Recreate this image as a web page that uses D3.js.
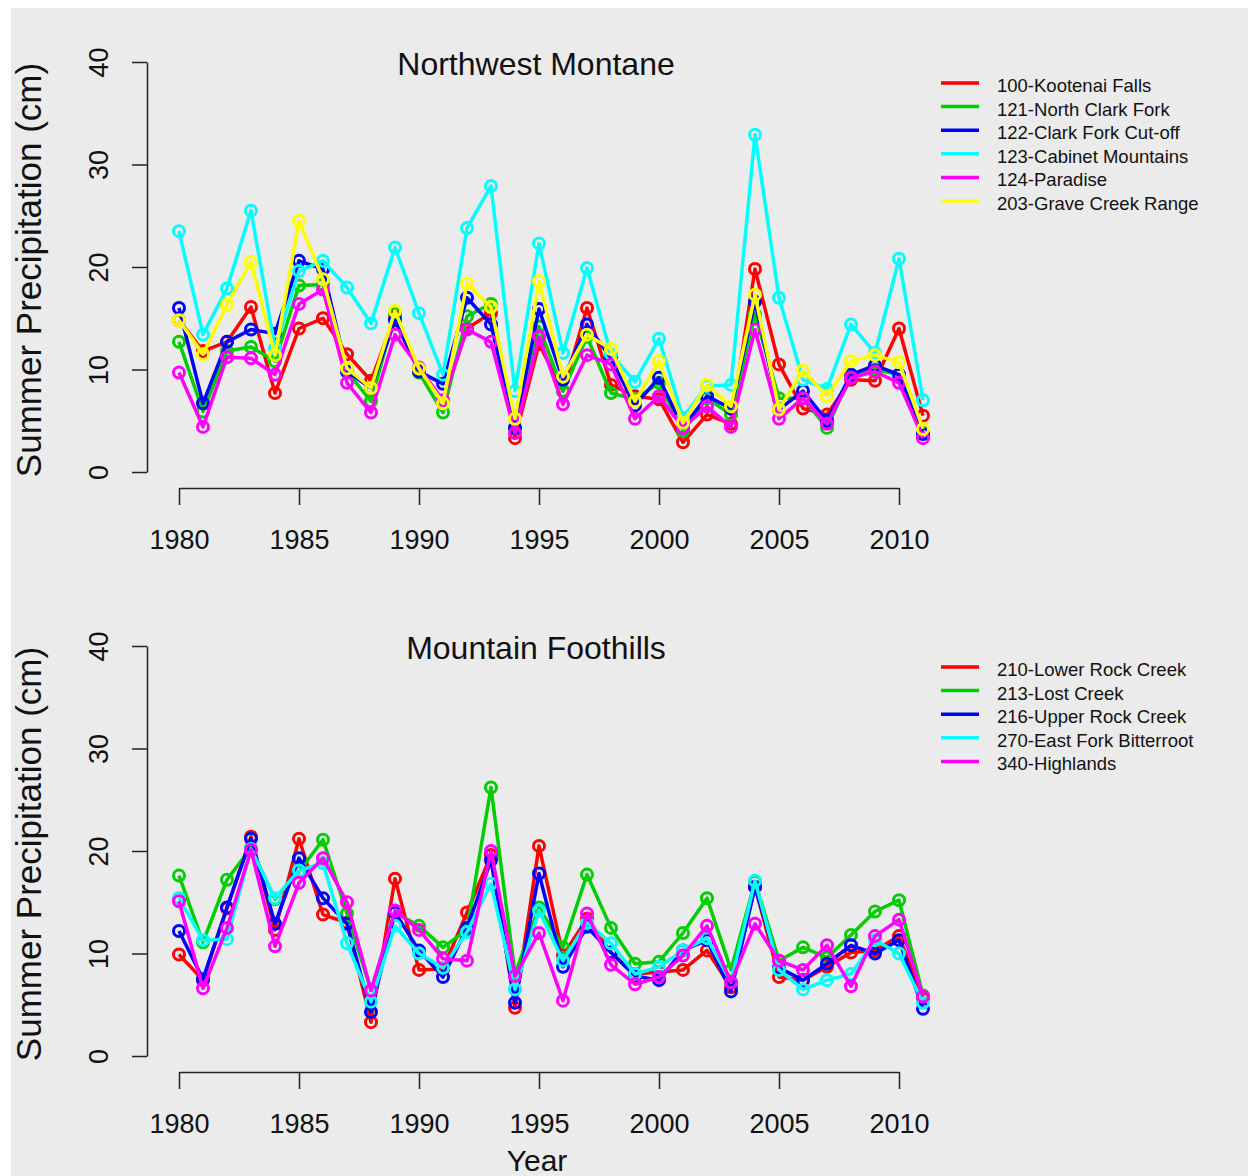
<!DOCTYPE html>
<html>
<head>
<meta charset="utf-8">
<script src="https://cdn.jsdelivr.net/npm/d3@7"></script>
<style>
  body { margin: 0; background: #fff; }
  svg text { font-family: "Liberation Sans", Arial, sans-serif; fill: #111; }
</style>
</head>
<body>
<svg id="chart" width="1248" height="1176"></svg>
<script>
const years = [1980, 1981, 1982, 1983, 1984, 1985, 1986, 1987, 1988, 1989, 1990, 1991, 1992, 1993, 1994, 1995,
  1996, 1997, 1998, 1999, 2000, 2001, 2002, 2003, 2004, 2005, 2006, 2007, 2008, 2009, 2010, 2011];
const xTicks = [1980, 1985, 1990, 1995, 2000, 2005, 2010];
const yTicks = [0, 10, 20, 30, 40];

// Northwest Montane
const nwNames = ['100-Kootenai Falls', '121-North Clark Fork', '122-Clark Fork Cut-off',
  '123-Cabinet Mountains', '124-Paradise', '203-Grave Creek Range'];
const nwColors = ['#ff0000', '#00cd00', '#0000ff', '#00ffff', '#ff00ff', '#ffff00'];
const kootenai = [14.8, 11.8, 12.7, 16.1, 7.7, 14.0, 15.0, 11.5, 8.9, 15.2, 10.1, 6.9, 14.0, 15.5, 3.3, 12.5,
  7.9, 16.0, 8.5, 7.4, 7.1, 2.9, 5.6, 4.7, 19.8, 10.5, 6.2, 5.6, 9.0, 8.9, 14.0, 5.5];
const northClark = [12.7, 5.9, 11.8, 12.2, 10.8, 18.2, 18.3, 9.8, 6.9, 15.4, 9.7, 5.8, 15.2, 16.4, 4.3, 14.2,
  7.9, 13.2, 7.7, 7.1, 8.7, 4.0, 7.2, 5.6, 15.4, 7.2, 7.2, 4.3, 9.5, 10.0, 9.5, 3.8];
const clarkCutoff = [16.0, 6.7, 12.7, 13.9, 13.5, 20.6, 19.8, 9.8, 8.2, 14.8, 9.8, 8.6, 17.0, 14.4, 4.3, 15.9,
  9.0, 14.4, 11.1, 6.5, 9.2, 4.3, 7.4, 6.2, 16.6, 6.1, 7.9, 5.0, 9.5, 10.4, 9.5, 3.7];
const cabinet = [23.5, 13.4, 17.9, 25.5, 12.1, 19.6, 20.6, 18.0, 14.5, 21.9, 15.5, 9.5, 23.8, 27.9, 7.9, 22.3,
  11.6, 19.9, 11.5, 8.8, 13.0, 5.3, 8.4, 8.5, 32.9, 17.0, 9.0, 8.1, 14.4, 11.6, 20.8, 7.0];
const paradise = [9.7, 4.4, 11.2, 11.1, 9.5, 16.4, 17.8, 8.7, 5.8, 13.4, 10.2, 7.0, 13.9, 12.7, 3.8, 13.2,
  6.6, 11.4, 10.5, 5.2, 7.4, 4.3, 6.4, 4.4, 13.9, 5.2, 7.2, 4.7, 9.2, 9.8, 8.7, 3.3];
const graveCreek = [14.8, 11.5, 16.3, 20.5, 11.4, 24.5, 18.8, 10.1, 8.2, 15.7, 10.1, 6.7, 18.4, 16.1, 5.2, 18.6,
  9.3, 13.4, 12.0, 6.9, 10.8, 4.8, 8.5, 6.4, 17.3, 6.1, 9.9, 7.4, 10.8, 11.4, 10.7, 4.2];

// Mountain Foothills
const mfNames = ['210-Lower Rock Creek', '213-Lost Creek', '216-Upper Rock Creek',
  '270-East Fork Bitterroot', '340-Highlands'];
const mfColors = ['#ff0000', '#00cd00', '#0000ff', '#00ffff', '#ff00ff'];
const lowerRock = [9.9, 7.4, 14.4, 21.4, 12.3, 21.2, 13.8, 13.0, 3.3, 17.3, 8.4, 8.5, 14.0, 19.6, 4.7, 20.5,
  9.8, 13.4, 10.1, 8.0, 8.2, 8.4, 10.3, 6.7, 16.5, 7.7, 7.4, 8.7, 10.1, 10.3, 11.7, 5.6];
const lostCreek = [17.6, 11.1, 17.2, 20.3, 15.3, 18.0, 21.1, 13.9, 6.4, 14.0, 12.7, 10.6, 12.3, 26.2, 8.0, 14.5,
  10.6, 17.7, 12.5, 9.0, 9.2, 12.0, 15.4, 8.4, 17.0, 9.3, 10.6, 9.6, 11.8, 14.1, 15.2, 5.9];
const upperRock = [12.2, 7.5, 14.5, 21.2, 12.9, 19.3, 15.4, 12.9, 4.3, 14.0, 10.3, 7.7, 12.5, 19.1, 5.2, 17.8,
  8.7, 12.6, 10.1, 7.8, 7.4, 10.3, 11.3, 6.3, 16.5, 8.6, 7.4, 9.0, 10.8, 10.0, 11.3, 4.6];
const eastFork = [15.4, 11.3, 11.4, 20.2, 15.4, 18.1, 18.8, 11.0, 5.3, 12.7, 10.0, 8.6, 12.1, 16.8, 6.5, 14.2,
  9.3, 13.0, 11.0, 8.0, 8.7, 10.3, 11.5, 7.2, 17.1, 8.4, 6.5, 7.4, 8.0, 11.3, 10.0, 5.2];
const highlands = [15.1, 6.6, 12.5, 20.1, 10.7, 16.9, 19.3, 15.0, 6.4, 14.2, 12.3, 9.5, 9.3, 20.0, 7.8, 12.0,
  5.4, 13.9, 8.9, 7.0, 7.7, 9.8, 12.7, 7.2, 12.9, 9.3, 8.4, 10.8, 6.8, 11.7, 13.3, 5.8];

const panels = [
  { title: 'Northwest Montane', top: 0, names: nwNames, colors: nwColors,
    series: [kootenai, northClark, clarkCutoff, cabinet, paradise, graveCreek] },
  { title: 'Mountain Foothills', top: 584, names: mfNames, colors: mfColors,
    series: [lowerRock, lostCreek, upperRock, eastFork, highlands] }
];

const svg = d3.select('#chart');
svg.append('rect')
  .attr('x', 11).attr('y', 8)
  .attr('width', 1248 - 11).attr('height', 1176 - 8)
  .attr('fill', '#ebebeb');

const x = d3.scaleLinear().domain([1980, 2010]).range([179, 899]);

panels.forEach(p => {
  const g = svg.append('g').attr('transform', `translate(0,${p.top})`);
  const y = d3.scaleLinear().domain([0, 40]).range([472, 62]);

  // y axis
  const yAxis = g.append('g')
    .attr('transform', 'translate(147,0)')
    .call(d3.axisLeft(y).tickValues(yTicks).tickSize(15).tickSizeOuter(0));
  yAxis.select('.domain').attr('stroke', '#222').attr('stroke-width', 1.5);
  yAxis.selectAll('.tick line').attr('stroke', '#222').attr('stroke-width', 1.5);
  yAxis.selectAll('.tick text')
    .attr('x', null).attr('dy', null)
    .attr('transform', 'translate(-39,0) rotate(-90)')
    .attr('text-anchor', 'middle')
    .attr('font-size', 27)
    .attr('fill', '#111');

  // x axis
  const xAxis = g.append('g')
    .attr('transform', 'translate(0,488)')
    .call(d3.axisBottom(x).tickValues(xTicks).tickSize(17).tickSizeOuter(0).tickFormat(d3.format('d')));
  xAxis.select('.domain').attr('stroke', '#222').attr('stroke-width', 1.5);
  xAxis.selectAll('.tick line').attr('stroke', '#222').attr('stroke-width', 1.5);
  xAxis.selectAll('.tick text')
    .attr('y', 61).attr('dy', null)
    .attr('font-size', 27)
    .attr('fill', '#111');

  // labels
  g.append('text')
    .attr('transform', 'translate(41,270) rotate(-90)')
    .attr('text-anchor', 'middle')
    .attr('font-size', 35)
    .text('Summer Precipitation (cm)');

  g.append('text')
    .attr('x', 536).attr('y', 75)
    .attr('text-anchor', 'middle')
    .attr('font-size', 32)
    .text(p.title);

  // series
  const line = d3.line().x((d, i) => x(years[i])).y(d => y(d));
  p.series.forEach((vals, k) => {
    const sg = g.append('g');
    sg.append('path')
      .datum(vals)
      .attr('d', line)
      .attr('fill', 'none')
      .attr('stroke', p.colors[k])
      .attr('stroke-width', 3.5)
      .attr('stroke-linejoin', 'round');
    sg.selectAll('circle')
      .data(vals)
      .join('circle')
      .attr('cx', (d, i) => x(years[i]))
      .attr('cy', d => y(d))
      .attr('r', 5.5)
      .attr('fill', 'none')
      .attr('stroke', p.colors[k])
      .attr('stroke-width', 3);
  });

  // legend
  const leg = g.append('g').attr('transform', 'translate(941,83)');
  p.names.forEach((name, k) => {
    const row = leg.append('g').attr('transform', `translate(0,${k * 23.6})`);
    row.append('line')
      .attr('x1', 0).attr('x2', 38)
      .attr('stroke', p.colors[k])
      .attr('stroke-width', 3.5);
    row.append('text')
      .attr('x', 56).attr('y', 9)
      .attr('font-size', 18.5)
      .text(name);
  });
});

svg.append('text')
  .attr('x', 537).attr('y', 1171)
  .attr('text-anchor', 'middle')
  .attr('font-size', 30)
  .text('Year');
</script>
</body>
</html>
